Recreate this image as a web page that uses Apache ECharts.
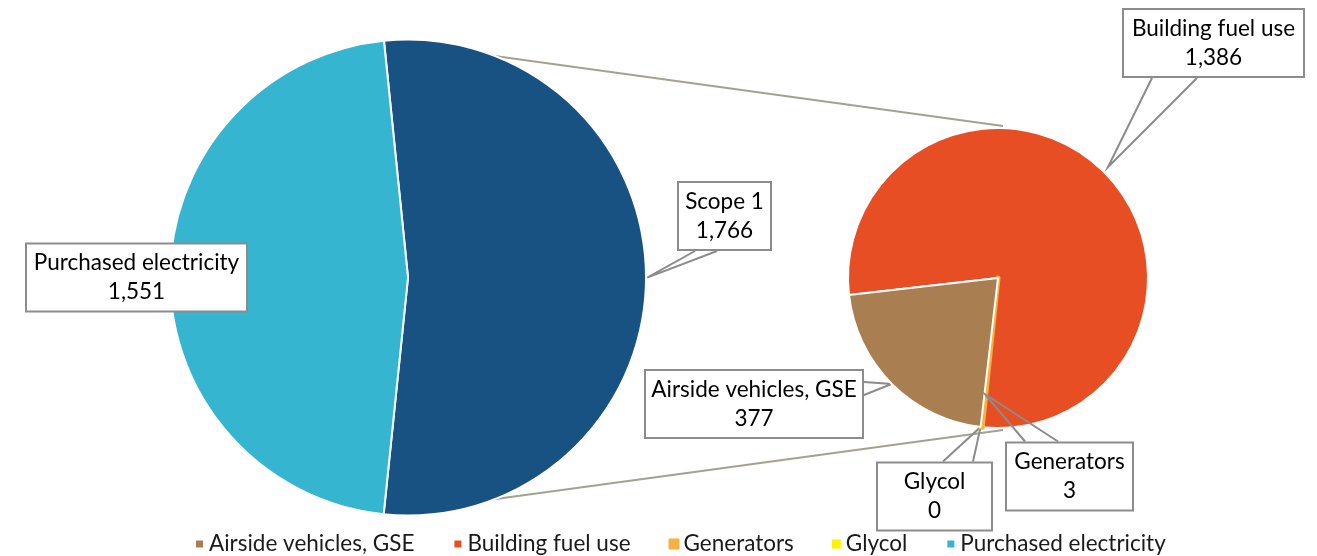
<!DOCTYPE html>
<html>
<head>
<meta charset="utf-8">
<script src="https://cdn.jsdelivr.net/npm/echarts@6/dist/echarts.min.js"></script>
<style>
  html, body { margin: 0; padding: 0; background: #fff; }
  #chart { width: 1317px; height: 556px; }
</style>
</head>
<body>
<div id="chart"></div>
<script>
const mainNames = ['Scope 1', 'Purchased electricity'];
const mainValues = [1766, 1551];
const subNames = ['Building fuel use', 'Generators', 'Glycol', 'Airside vehicles, GSE'];
const subValues = [1386, 3, 0, 377];
const legendNames = ['Airside vehicles, GSE', 'Building fuel use', 'Generators', 'Glycol', 'Purchased electricity'];

const colors = {
  'Scope 1': '#175282',
  'Purchased electricity': '#35b5d0',
  'Building fuel use': '#e84e24',
  'Generators': '#f6b142',
  'Glycol': '#fff200',
  'Airside vehicles, GSE': '#a97f52'
};

const FONT = 'Lato';
// size the font so "Purchased electricity" comes out about as wide as in the original
const ctx = document.createElement('canvas').getContext('2d');
ctx.font = '100px ' + FONT;
const fontSize = Math.round(100 * 204 / ctx.measureText('Purchased electricity').width * 2) / 2;
ctx.font = fontSize + 'px ' + FONT;

const bigCenter = [408, 277.5], bigR = 238, bigStart = 95.8;
const smallCenter = [998, 278], smallR = 150, smallStart = 186.5;

// callout boxes: centre, box width, which edge the pointer leaves from, pointer base offsets,
// tip radius factor; "over" pointers end inside the pie so they are drawn on top as graphics
const callouts = {
  'Scope 1': { c: [724.5, 216], w: 93, side: 'bottom', base: [-29.5, -7.5], k: 1.005 },
  'Purchased electricity': { c: [136.5, 277.5], w: 221 },
  'Building fuel use': { c: [1213.5, 43], w: 181, side: 'bottom', base: [-61.5, -16.5], k: 1.04 },
  'Airside vehicles, GSE': { c: [754, 404], w: 218, side: 'right', base: [-22, -9], k: 1 },
  'Glycol': { c: [934.5, 496.5], w: 115, side: 'top', base: [8.5, 38.5], k: 1 },
  'Generators': { c: [1069.5, 476.5], w: 127, side: 'top', base: [-44.5, -11.5], k: 0.78, over: true }
};

function polar(c, r, deg) {
  const t = deg * Math.PI / 180;
  return [c[0] + r * Math.cos(t), c[1] - r * Math.sin(t)];
}

// mid angle of every slice, same way the pie lays them out (clockwise from startAngle)
function midAngles(values, start) {
  const sum = values.reduce((a, b) => a + b, 0);
  let cur = start;
  return values.map(v => {
    const ang = 360 * v / sum;
    const mid = cur - ang / 2;
    cur -= ang;
    return mid;
  });
}
const mainMids = midAngles(mainValues, bigStart);
const subMids = midAngles(subValues, smallStart);

const overPointers = [];

function calloutLayout(params) {
  const isMain = params.seriesIndex === 0;
  const names = isMain ? mainNames : subNames;
  const name = names[params.dataIndex];
  const co = callouts[name];
  const w = params.labelRect.width, h = params.labelRect.height;
  const out = { x: co.c[0], y: co.c[1], align: 'center', verticalAlign: 'middle' };
  if (!co.side) return out;
  const tip = isMain
    ? polar(bigCenter, bigR * co.k, mainMids[params.dataIndex])
    : polar(smallCenter, smallR * co.k, subMids[params.dataIndex]);
  let a, b;
  if (co.side === 'bottom') {
    a = [co.c[0] + co.base[0], co.c[1] + h / 2];
    b = [co.c[0] + co.base[1], co.c[1] + h / 2];
  } else if (co.side === 'top') {
    a = [co.c[0] + co.base[0], co.c[1] - h / 2];
    b = [co.c[0] + co.base[1], co.c[1] - h / 2];
  } else {
    a = [co.c[0] + w / 2, co.c[1] + co.base[0]];
    b = [co.c[0] + w / 2, co.c[1] + co.base[1]];
  }
  if (co.over) overPointers.push([a, tip, b]);
  else out.labelLinePoints = [a, tip, b];
  return out;
}

function fmt(v) { return v.toLocaleString('en-US'); }

function makeData(names, values) {
  return names.map((n, i) => {
    const textW = Math.max(ctx.measureText(n).width, ctx.measureText(fmt(values[i])).width);
    const padX = Math.max(4, (callouts[n].w - 2 - textW) / 2);
    const item = {
      name: n,
      value: values[i],
      itemStyle: { color: colors[n] },
      label: { padding: [4, padX] }
    };
    if (n === 'Generators') item.itemStyle = { color: colors[n], borderColor: colors[n], borderWidth: 5 };
    if (n === 'Glycol') item.itemStyle = { color: colors[n], borderWidth: 0 };
    if (!callouts[n].side || callouts[n].over) item.labelLine = { show: false };
    return item;
  });
}

const labelStyle = {
  show: true,
  position: 'outside',
  formatter: p => p.name + '\n' + fmt(p.value),
  fontFamily: FONT,
  fontSize: fontSize,
  lineHeight: 29,
  color: '#000',
  align: 'center',
  overflow: 'none',
  backgroundColor: '#fff',
  borderColor: '#8c8c8c',
  borderWidth: 2
};

const labelLine = {
  show: true,
  lineStyle: { color: '#8c8c8c', width: 2 }
};

const mainSum = mainValues.reduce((a, b) => a + b, 0);
const topPt = polar(bigCenter, bigR, bigStart);
const botPt = polar(bigCenter, bigR, bigStart - 360 * mainValues[0] / mainSum);

const chart = echarts.init(document.getElementById('chart'));

chart.setOption({
  animation: false,
  legend: {
    data: legendNames,
    left: 189,
    top: 527,
    icon: 'rect',
    itemWidth: 9,
    itemHeight: 9,
    itemGap: 38,
    selectedMode: false,
    textStyle: { fontFamily: FONT, fontSize: fontSize, color: '#1a1a1a', lineHeight: 24 }
  },
  graphic: [
    {
      id: 'linkTop', type: 'line', z: 0, silent: true,
      shape: { x1: topPt[0], y1: topPt[1], x2: smallCenter[0] + 5, y2: smallCenter[1] - smallR - 2 },
      style: { stroke: '#a3a291', lineWidth: 2 }
    },
    {
      id: 'linkBottom', type: 'line', z: 0, silent: true,
      shape: { x1: botPt[0], y1: botPt[1], x2: smallCenter[0] + 5, y2: smallCenter[1] + smallR + 2 },
      style: { stroke: '#a3a291', lineWidth: 2 }
    }
  ],
  series: [
    {
      name: 'Total',
      type: 'pie',
      center: bigCenter,
      radius: bigR,
      startAngle: bigStart,
      clockwise: true,
      avoidLabelOverlap: false,
      silent: true,
      itemStyle: { borderColor: '#fff', borderWidth: 2 },
      label: labelStyle,
      labelLine: labelLine,
      labelLayout: calloutLayout,
      data: makeData(mainNames, mainValues)
    },
    {
      name: 'Scope 1',
      type: 'pie',
      center: smallCenter,
      radius: smallR,
      startAngle: smallStart,
      clockwise: true,
      avoidLabelOverlap: false,
      silent: true,
      itemStyle: { borderColor: '#fff', borderWidth: 2 },
      label: labelStyle,
      labelLine: labelLine,
      labelLayout: calloutLayout,
      data: makeData(subNames, subValues)
    }
  ]
});

// pointers that reach into the pie go on top of the slices
chart.setOption({
  graphic: overPointers.map((pts, i) => ({
    id: 'pointer' + i, type: 'polyline', z: 10, silent: true,
    shape: { points: pts },
    style: { stroke: '#8c8c8c', lineWidth: 2, fill: null }
  }))
});
</script>
</body>
</html>
